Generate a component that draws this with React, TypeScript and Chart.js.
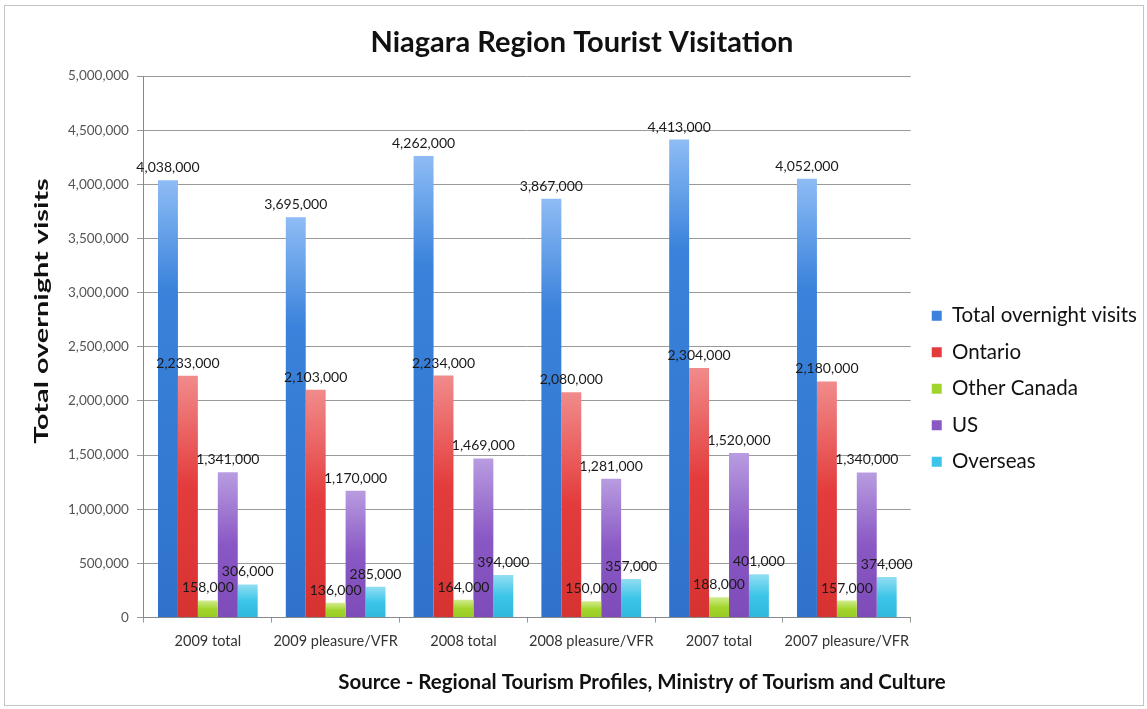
import React, { useEffect, useRef } from "react";
import { Chart, registerables } from "chart.js";

Chart.register(...registerables);

const categories = [
  "2009 total",
  "2009 pleasure/VFR",
  "2008 total",
  "2008 pleasure/VFR",
  "2007 total",
  "2007 pleasure/VFR",
];
const totalVisits = [4038000, 3695000, 4262000, 3867000, 4413000, 4052000];
const ontario = [2233000, 2103000, 2234000, 2080000, 2304000, 2180000];
const otherCanada = [158000, 136000, 164000, 150000, 188000, 157000];
const us = [1341000, 1170000, 1469000, 1281000, 1520000, 1340000];
const overseas = [306000, 285000, 394000, 357000, 401000, 374000];
const seriesNames = ["Total overnight visits", "Ontario", "Other Canada", "US", "Overseas"];
const chartTitle = "Niagara Region Tourist Visitation";
const xTitle = "Source - Regional Tourism Profiles, Ministry of Tourism and Culture";
const yTitle = "Total overnight visits";

const FONT = "Lato, 'Open Sans', sans-serif";
const palette = [
  { base: "#3a82db", light: "#8ebcf5", dark: "#2f72cc" },
  { base: "#e43c3c", light: "#f18b8b", dark: "#d73232" },
  { base: "#a2d52c", light: "#d2ec8e", dark: "#97cc22" },
  { base: "#8a58c4", light: "#b89ce0", dark: "#7d4cb8" },
  { base: "#3cc5e8", light: "#93def2", dark: "#2fb8dc" },
];

const fmt = (v: number) => v.toLocaleString("en-US");

function barFill(idx: number) {
  return (ctx: any) => {
    const chart = ctx.chart;
    const c = palette[idx];
    if (ctx.type !== "data" || !chart.chartArea) return c.base;
    const ys = chart.scales.y;
    const top = ys.getPixelForValue(ctx.raw as number);
    const bottom = ys.getPixelForValue(0);
    if (!isFinite(top) || !isFinite(bottom) || bottom - top < 2) return c.base;
    const g = chart.ctx.createLinearGradient(0, top, 0, bottom);
    g.addColorStop(0, c.light);
    g.addColorStop(Math.min(0.5, 110 / (bottom - top)), c.base);
    g.addColorStop(1, c.dark);
    return g;
  };
}

const valueLabels = {
  id: "valueLabels",
  afterDatasetsDraw(chart: any) {
    const ctx = chart.ctx;
    ctx.save();
    ctx.font = `14px ${FONT}`;
    ctx.fillStyle = "#1a1a1a";
    ctx.textAlign = "center";
    ctx.textBaseline = "alphabetic";
    chart.data.datasets.forEach((ds: any, di: number) => {
      const meta = chart.getDatasetMeta(di);
      meta.data.forEach((el: any, i: number) => {
        ctx.fillText(fmt(ds.data[i]), el.x, el.y - 8);
      });
    });
    ctx.restore();
  },
};

const extraTitles = {
  id: "extraTitles",
  afterDraw(chart: any) {
    const ctx = chart.ctx;
    ctx.save();
    ctx.font = `bold 29px ${FONT}`;
    ctx.fillStyle = "#111";
    ctx.textAlign = "center";
    ctx.textBaseline = "middle";
    ctx.fillText(chartTitle, 582, 43);

    ctx.font = `bold 20.5px ${FONT}`;
    ctx.fillText(xTitle, 642, 682);
    ctx.restore();

    ctx.save();
    ctx.translate(42, 311);
    ctx.rotate(-Math.PI / 2);
    ctx.scale(1.52, 1);
    ctx.font = `bold 19px ${FONT}`;
    ctx.fillStyle = "#111";
    ctx.textAlign = "center";
    ctx.textBaseline = "middle";
    ctx.fillText(yTitle, 0, 0);
    ctx.restore();
  },
};

export default function App() {
  const ref = useRef<HTMLCanvasElement>(null);
  useEffect(() => {
    document.body.style.margin = "0";
    const datasetsData = [totalVisits, ontario, otherCanada, us, overseas];
    const chart = new Chart(ref.current!, {
      type: "bar",
      data: {
        labels: categories,
        datasets: datasetsData.map((d, i) => ({
          label: seriesNames[i],
          data: d,
          backgroundColor: barFill(i),
          borderWidth: 0,
          barPercentage: 1,
          categoryPercentage: 0.78,
        })),
      },
      options: {
        animation: false,
        responsive: false,
        layout: { padding: { left: 60, right: 0, top: 76, bottom: 49 } },
        plugins: {
          title: { display: false },
          legend: {
            position: "right",
            align: "center",
            maxWidth: 300,
            title: { display: true, text: "", padding: { top: 27, bottom: 0 } },
            labels: {
              boxWidth: 10,
              boxHeight: 10,
              padding: 16,
              color: "#111",
              font: { family: FONT, size: 20.5 },
              generateLabels: (chart: any) =>
                chart.data.datasets.map((ds: any, i: number) => ({
                  text: ds.label,
                  fillStyle: palette[i].base,
                  strokeStyle: palette[i].base,
                  fontColor: "#111",
                  lineWidth: 0,
                  datasetIndex: i,
                  hidden: false,
                })),
            },
          },
          tooltip: { enabled: false },
        },
        scales: {
          x: {
            grid: { drawOnChartArea: false, drawTicks: true, tickLength: 5, color: "#999" },
            border: { color: "#888" },
            ticks: {
              color: "#333",
              font: { family: FONT, size: 14.5 },
              padding: 10,
              maxRotation: 0,
              autoSkip: false,
            },
          },
          y: {
            min: 0,
            max: 5000000,
            grid: { color: "#9a9a9a", tickLength: 7 },
            border: { color: "#888" },
            ticks: {
              stepSize: 500000,
              color: "#555",
              font: { family: FONT, size: 13.5 },
              padding: 8,
              callback: (v: any) => fmt(Number(v)),
            },
          },
          y2: {
            position: "right",
            display: true,
            grid: { display: false, drawTicks: false },
            border: { display: false },
            ticks: { display: false },
            afterFit: (s: any) => {
              s.width = 5;
            },
          },
        },
      },
      plugins: [valueLabels, extraTitles],
    });
    return () => chart.destroy();
  }, []);
  return (
    <div style={{ position: "relative", width: 1147, height: 709, background: "#fff" }}>
      <canvas ref={ref} width={1147} height={709} style={{ display: "block" }} />
      <div
        style={{
          position: "absolute",
          left: 4,
          top: 5,
          right: 3,
          bottom: 3,
          border: "1px solid #c4c4c4",
          pointerEvents: "none",
        }}
      />
    </div>
  );
}
